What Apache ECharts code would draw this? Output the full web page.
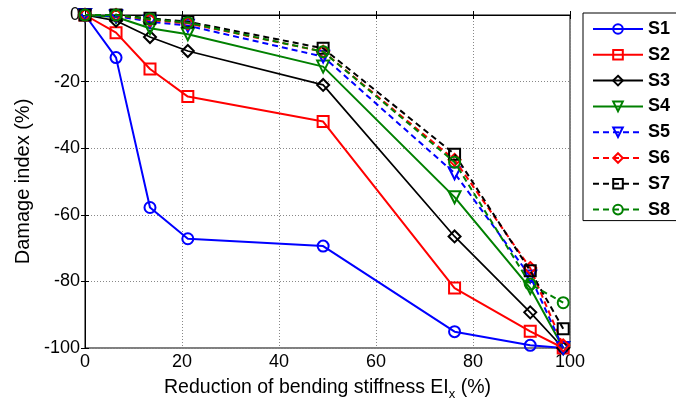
<!DOCTYPE html>
<html>
<head>
<meta charset="utf-8">
<script src="https://cdn.jsdelivr.net/npm/echarts@6/dist/echarts.min.js"></script>
<style>html,body{margin:0;padding:0;background:#fff}#c{width:676px;height:406px}</style>
</head>
<body>
<div id="c"></div>
<script>
var xVals = [0, 6.4, 13.4, 21.2, 49.1, 76.2, 91.8, 98.6];
var seriesNames = ['S1','S2','S3','S4','S5','S6','S7','S8'];
var s1 = [0, -12.8, -57.8, -67.2, -69.4, -95.1, -99.2, -100];
var s2 = [0, -5.3, -16.2, -24.5, -32.0, -82.0, -95.0, -100];
var s3 = [0, -1.7, -6.6, -10.8, -21.0, -66.5, -89.3, -100];
var s4 = [0, -0.6, -4.0, -5.8, -15.5, -54.7, -82.0, -100];
var s5 = [0, -0.3, -2.0, -3.2, -12.5, -47.5, -78.5, -100];
var s6 = [0, 0, -1.5, -2.5, -11.0, -43.5, -76.0, -99.2];
var s7 = [0, 0, -1.0, -2.0, -10.0, -41.8, -76.8, -94.2];
var s8 = [0, 0, -1.2, -2.3, -11.0, -44.2, -80.8, -86.4];
var xTicks = [0, 20, 40, 60, 80, 100];
var yTicks = [-100, -80, -60, -40, -20, 0];

var allData = [s1, s2, s3, s4, s5, s6, s7, s8];
var colors = ['#0000FF','#FF0000','#000000','#008000','#0000FF','#FF0000','#000000','#008000'];
var tri = 'path://M0,0 L10,0 L5,9 Z';
var symbols = ['circle','rect','diamond',tri,tri,'diamond','rect','circle'];
var sizes = [11,11,12,12,12,12,11,11];
var dashed = [false,false,false,false,true,true,true,true];

var FONT = 'Liberation Sans, Arial, sans-serif';
var chart = echarts.init(document.getElementById('c'));
var series = allData.map(function(arr, i){
  return {
    name: seriesNames[i],
    type: 'line',
    data: arr.map(function(v, j){ return [xVals[j], v]; }),
    symbol: symbols[i],
    symbolSize: sizes[i],
    showAllSymbol: true,
    lineStyle: {color: colors[i], width: i === 2 ? 1.7 : 2, type: dashed[i] ? [6,4] : 'solid'},
    itemStyle: {color: 'rgba(255,255,255,0)', borderColor: colors[i], borderWidth: 2},
    emphasis: {disabled: true},
    animation: false,
    z: 2 + i
  };
});

var axisFont = {fontFamily: FONT, fontSize: 18, color: '#000'};
chart.setOption({
  animation: false,
  backgroundColor: '#fff',
  grid: {left: 85, right: 106, top: 15, bottom: 58, show: true, borderColor: '#000', borderWidth: 1},
  legend: {
    orient: 'vertical', left: 583, top: 13,
    data: seriesNames,
    itemWidth: 50, itemHeight: 12, itemGap: 7.8,
    padding: [7, 30, 2, 9],
    borderColor: '#000', borderWidth: 1, backgroundColor: '#fff',
    textStyle: {fontFamily: FONT, fontSize: 18, fontWeight: 'bold', color: '#000'}
  },
  xAxis: [{
    type: 'value', min: 0, max: 100, interval: 20,
    name: 'Reduction of bending stiffness EI{sub|x} (%)',
    nameLocation: 'middle', nameGap: 26,
    nameTextStyle: {fontFamily: FONT, fontSize: 19.5, color: '#000',
      rich: {sub: {fontFamily: FONT, fontSize: 13, color: '#000', verticalAlign: 'bottom', padding: [14,0,0,0]}}},
    axisLine: {show: true, lineStyle: {color: '#000', width: 1}},
    axisTick: {show: true, inside: true, length: 4, lineStyle: {color: '#000'}},
    axisLabel: Object.assign({margin: 5}, axisFont),
    splitLine: {show: true, lineStyle: {color: '#888', type: [1,2], width: 1}}
  }, {
    type: 'value', min: 0, max: 100, interval: 20, position: 'top',
    axisLine: {show: true, lineStyle: {color: '#000'}},
    axisTick: {show: true, inside: true, length: 4, lineStyle: {color: '#000'}},
    axisLabel: {show: false}, splitLine: {show: false}
  }],
  yAxis: [{
    type: 'value', min: -100, max: 0, interval: 20,
    name: 'Damage index (%)', nameLocation: 'middle', nameGap: 52,
    nameTextStyle: {fontFamily: FONT, fontSize: 20, color: '#000'},
    axisLine: {show: true, lineStyle: {color: '#000', width: 1}},
    axisTick: {show: true, inside: true, length: 4, lineStyle: {color: '#000'}},
    axisLabel: Object.assign({margin: 5}, axisFont),
    splitLine: {show: true, lineStyle: {color: '#888', type: [1,2], width: 1}}
  }, {
    type: 'value', min: -100, max: 0, interval: 20, position: 'right',
    axisLine: {show: true, lineStyle: {color: '#000'}},
    axisTick: {show: true, inside: true, length: 4, lineStyle: {color: '#000'}},
    axisLabel: {show: false}, splitLine: {show: false}
  }],
  series: series
});
</script>
</body>
</html>
